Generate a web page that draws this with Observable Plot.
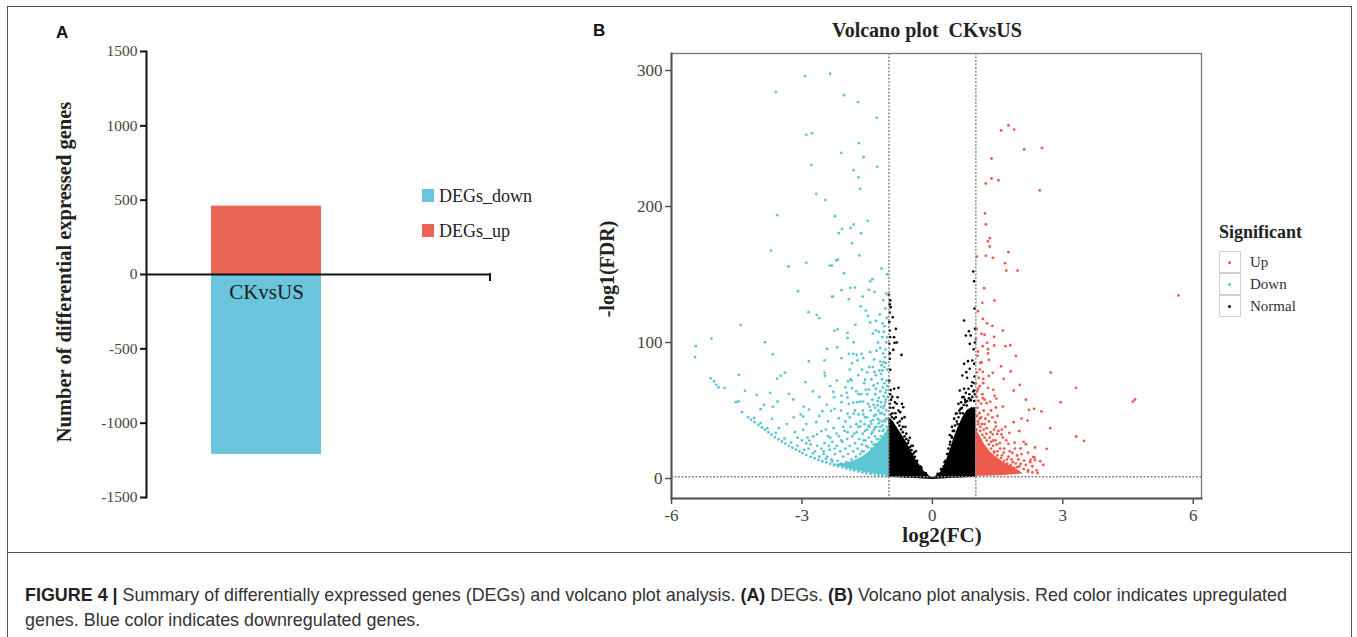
<!DOCTYPE html>
<html>
<head>
<meta charset="utf-8">
<script src="https://cdn.jsdelivr.net/npm/d3@7"></script>
<script src="https://cdn.jsdelivr.net/npm/@observablehq/plot@0.6"></script>
<style>
  html, body { margin: 0; padding: 0; background: #fff; }
  #page { position: relative; width: 1357px; height: 637px; overflow: hidden; background: #fff; }
  .abs { position: absolute; white-space: pre; }
  .serif { font-family: "Liberation Serif", "Times New Roman", serif; color: #222; }
  .center { transform: translate(-50%, -50%); }
  .rot { transform: translate(-50%, -50%) rotate(-90deg); }
  .letter { font-family: "Liberation Sans", Arial, sans-serif; font-weight: bold; font-size: 17px; color: #111; }
  .cap { font-family: "Liberation Sans", Arial, sans-serif; font-size: 19px; color: #333; line-height: 25px; transform-origin: 0 50%; }
</style>
</head>
<body>
<div id="page"></div>
<script>
// ---------- Panel A data ----------
const aCategories = ["CKvsUS"];
const aSeries = ["DEGs_down", "DEGs_up"];
const aValues = [-1210, 460];
const aTicks = [-1500, -1000, -500, 0, 500, 1000, 1500];
const aColors = ["#6AC5DC", "#EB6556"];

// ---------- Panel B data ----------
const bXTicks = [-6, -3, 0, 3, 6];
const bYTicks = [0, 100, 200, 300];
const fcThresholds = [-1, 1];
const fdrThreshold = [1.3];
const bGroups = ["Up", "Down", "Normal"];
const bColors = ["#EF5A4E", "#5CC6D3", "#000000"];

// Downregulated (cyan) points [log2FC, -log10 FDR]
const downPts = [
[-2.93,295.8],[-2.35,297.6],[-3.60,284.3],[-2.03,281.8],[-1.71,276.7],[-1.28,265.2],[-2.90,252.7],[-2.77,253.9],[-1.69,246.6],[-2.10,239.5],[-1.58,236.3],[-2.78,230.6],[-1.27,229.2],[-1.81,226.7],[-1.70,221.5],[-1.66,213.0],[-2.67,209.3],[-2.46,204.7],[-3.57,193.6],[-2.24,192.9],[-1.49,189.5],[-1.81,186.8],[-1.88,184.3],[-2.08,183.6],[-2.15,180.4],[-1.64,180.4],[-1.85,173.0],[-3.71,167.6],[-1.68,164.0],[-2.21,160.3],[-2.17,161],[-2.90,158.6],[-3.31,155.9],[-2.36,156.6],[-2.31,156.6],[-1.17,154.4],[-1.04,150.2],[-2.03,151.0],[-1.38,146.6],[-1.43,144.9],[-3.09,137.7],[-2.09,138.5],[-1.89,140.2],[-1.78,140.4],[-1.46,138.7],[-1.33,137.3],[-2.31,133.8],[-2.29,133.8],[-1.92,131.8],[-1.60,133.8],
[-2.85,122.3],[-2.66,120.3],[-2.60,117.9],[-1.65,126.5],[-1.53,123.5],[-1.48,119.6],[-1.21,120.6],[-1.30,115.9],[-1.43,114.7],[-1.77,113.0],[-2.18,109.6],[-2.25,108.6],[-1.95,107.1],[-1.95,103.4],[-1.81,100.2],[-1.37,106.6],[-1.30,108.8],[-1.23,107.9],[-1.12,107.9],[-4.41,113.0],[-5.08,102.9],[-5.44,97.3],[-5.46,89.2],[-3.85,100.2],[-3.67,91.2],[-2.42,95.3],[-2.19,96.5],[-2.48,86.8],[-2.84,86.3],[-2.09,88.5],[-1.92,91.7],[-1.82,91.7],[-1.74,91.0],[-1.63,91.7],[-1.59,88.5],[-1.85,84.8],[-1.72,86.8],[-1.43,92.9],[-1.34,87.5],[-1.37,81.9],[-1.33,78.4],[-1.22,79.4],[-1.15,79.4],[-1.17,83.3],[-1.40,72.8],[-1.30,76.0],[-1.18,77.0],[-1.11,81.9],[-1.12,85.5],[-1.09,89.2],[-5.10,73.8],[-5.02,71.5],[-4.97,68.9],[-4.92,66.9],[-4.78,66.7],[-4.45,76.2],[-4.31,64.5],[-4.52,56.1],[-4.46,56.8],[-4.38,48.8],
[-4.24,45.1],[-4.17,43.2],[-4.09,41.4],[-4.0,39.4],[-3.92,37.5],[-3.85,35.8],[-3.77,34.1],[-3.70,32.2],[-3.62,30.4],[-3.54,28.8],[-3.46,27.2],[-3.38,25.6],[-3.30,24.0],[-3.22,22.6],[-3.14,21.3],[-3.06,19.9],[-2.99,18.6],[-2.90,17.2],[-2.80,15.9],[-2.71,14.8],[-2.62,13.7],[-2.53,12.7],[-2.44,11.8],[-2.35,10.8],[-2.26,9.8],[-2.17,9.0],[-2.07,8.3],[-1.98,7.4],[-1.89,6.6],[-1.80,5.8],[-1.70,5.1],[-1.61,4.5],[-1.52,3.9],[-1.42,3.4],[-1.33,2.9],[-1.24,2.6],[-1.15,2.4],[-1.05,2.0],
[-4.1,44.5],[-3.95,40.8],[-3.8,37],[-3.6,33.5],[-3.4,29.5],[-3.25,26.5],[-3.1,24],[-2.95,21],[-2.75,18.5],[-2.6,16],[-2.45,14.5],[-2.3,12.5],
[-4.04,61.5],[-3.95,51.0],[-3.73,63.0],[-3.87,54.2],[-3.67,52.7],[-3.56,56.6],[-3.57,73.5],[-3.49,75.5],[-3.39,77.9],[-3.53,37.0],[-3.69,43.9],[-3.30,62.3],[-3.20,58.1],[-3.19,44.9],[-3.03,47.1],[-2.97,45.6],[-2.96,52.9],[-2.92,70.8],[-2.84,50.7],[-2.67,41.4],[-2.53,49.5],[-2.43,54.2],[-2.48,77.7],[-2.47,75.5],[-2.28,63.8],[-2.26,59.8],[-2.25,51.2],[-2.33,49.8],[-2.15,44.3],[-2.55,34.8],[-2.74,30.9],[-2.87,30.1],[-2.83,27.9],[-2.65,32.4],[-3.16,34.1],[-2.97,35.8],[-1.97,63.0],[-1.95,59.6],[-1.88,73.0],[-1.86,72.1],[-1.94,71.5],[-1.85,66.4],[-1.92,54.9],[-1.82,55.7],[-1.73,56.1],[-1.66,56.6],[-1.59,56.6],[-1.55,72.6],[-1.57,70.1],[-1.53,65.4],[-1.46,65.4],[-2.09,61.0],[-2.09,56.1],[-1.95,47.6],[-1.81,47.6],[-1.70,47.1],[-1.59,47.1],[-1.55,45.1],[-1.44,52.9],[-1.35,54.2],[-1.26,53.7],[-1.18,52.9],[-1.10,53.7],[-1.31,62.0],[-1.23,59.3],[-1.12,60.3],[-1.35,68.4],[-1.30,66.0],[-1.75,39.9],[-1.66,38.2],[-1.56,39.9],[-1.47,38.8],[-1.40,40.2],[-1.32,37.7],[-1.23,40.7],[-1.15,39.0],[-1.09,42.1],
[-2.55,22],[-2.5,18],[-2.48,26],[-2.42,16],[-2.4,31],[-2.36,21],[-2.32,14],[-2.3,27],[-2.27,37],[-2.24,18],[-2.2,24],[-2.18,13],[-2.15,31],[-2.12,20],[-2.1,11],[-2.07,27],[-2.05,16],[-2.02,35],[-2.0,22],[-1.98,12],[-1.96,29],[-1.94,18],[-1.92,9],[-1.9,24],[-1.88,38],[-1.86,14],[-1.84,31],[-1.82,20],[-1.8,11],[-1.78,26],[-1.76,16],[-1.74,34],[-1.72,22],[-1.7,8],[-1.68,29],[-1.66,18],[-1.64,13],[-1.62,25],[-1.6,33],[-1.58,20],[-1.56,10],[-1.54,28],[-1.52,16],[-1.5,36],[-1.48,23],[-1.46,30],[-1.44,13],[-1.42,42],[-1.4,27],[-1.38,34],[-1.36,20],[-1.34,46],[-1.32,31],[-1.3,25],[-1.28,38],[-1.26,44],[-1.24,29],[-1.22,35],[-1.2,48],[-1.18,31],[-1.16,42],[-1.14,27],[-1.12,36],[-1.1,47],[-1.08,33],[-1.06,44],[-1.05,38],[-1.07,58],[-1.06,65],[-1.1,70],[-1.05,72],[-1.08,95],[-1.06,100],[-1.1,112],[-1.05,118],[-1.08,125],[-1.13,131],[-1.06,136],[-1.2,96],[-1.25,100],[-1.15,104],[-1.28,94],[-1.45,82],[-1.5,78],[-1.62,80],[-1.7,76],[-1.75,64],[-1.64,62],[-1.9,80],[-2.0,67],[-2.2,72],[-2.35,68],[-2.6,60],[-2.75,64],[-2.6,46],[-2.4,42],[-2.9,40],[-3.35,40],[-2.1,50],[-2.0,42],
[-1.65,42],[-1.6,50],[-1.55,35],[-1.5,45],[-1.48,55],[-1.45,38],[-1.42,50],[-1.4,33],[-1.38,58],[-1.36,43],[-1.34,36],[-1.32,52],[-1.3,47],[-1.28,29],[-1.26,57],[-1.24,50],[-1.22,43],[-1.2,38],[-1.18,56],[-1.16,48],[-1.14,35],[-1.12,52],[-1.1,43],[-1.08,56],[-1.06,50],[-1.04,44],[-1.03,60],[-1.04,68],[-1.08,63],[-1.14,67],[-1.2,64],[-1.26,70],[-1.16,73],[-1.04,80],[-1.07,85],[-1.13,92],[-1.04,104],[-1.15,114],[-1.2,86],[-1.5,62],[-1.7,62],[-1.78,50],[-1.9,45],[-2.05,38],[-2.2,33],[-2.35,30],[-2.45,36],[-1.62,20],[-1.58,28],[-1.52,24],[-1.45,18],[-1.4,22],[-1.35,25],[-1.3,19],[-1.25,24],[-1.2,21],[-1.15,18],[-1.12,26],[-1.08,22],[-1.04,28],[-1.8,33],[-1.7,38],[-1.95,34],[-2.1,28],[-2.25,22],[-2.38,24],[-2.5,20],[-2.65,24],[-2.7,20],[-2.85,22],[-2.8,25],[-3.0,28],[-3.1,30],[-2.9,26]
];

// Upregulated (red) points
const upPts = [
[1.75,259.6],[1.58,255.9],[1.88,256.6],[2.11,241.9],[2.52,243.1],[1.36,235.3],[1.36,220.6],[1.52,219.3],[1.23,216.9],[2.47,211.8],[1.21,194.9],[1.23,186.8],[1.32,176.7],[1.28,174.5],[1.32,170.6],[1.75,166.4],[1.02,163.2],[1.23,163.7],[1.39,162.3],[1.67,158.3],[1.70,152.9],[1.96,152.9],[1.19,139.9],[1.43,130.9],[1.15,129.2],[5.66,134.6],
[1.16,117.4],[1.26,114.0],[1.38,112.3],[1.62,108.8],[1.13,106.4],[1.20,105.7],[1.42,104.2],[1.00,102.7],[1.26,99.8],[1.42,97.8],[1.16,97.3],[1.68,97.3],[1.79,98.0],[1.28,95.1],[1.05,93.4],[1.28,91.9],[1.92,90.2],[1.04,90.2],[1.30,87.3],[1.13,85.5],[1.58,82.4],[1.09,80.1],[1.16,78.4],[1.39,77.7],[1.80,78.7],[2.72,77.9],[1.30,75.5],[1.17,73.3],[1.64,73.3],[1.17,70.1],[1.09,67.9],[1.28,66.7],[2.01,68.9],[3.30,66.7],[1.87,64.7],[1.40,65.2],[1.03,64.0],[1.43,60.8],[1.47,58.8],[1.16,59.1],[2.15,57.9],[2.95,56.1],[4.61,56.6],[4.66,58.1],[1.25,55.4],[1.33,56.4],[1.46,52.2],[1.62,52.9],[2.22,50.5],[2.34,51.2],[2.51,49.3],[2.05,44.1],[2.19,42.6],[1.87,41.4],[1.45,41.2],[1.46,38.2],[2.71,37.0],[2.00,34.8],[1.77,33.6],[1.59,32.4],[1.49,32.8],[1.39,32.4],[1.34,34.1],[3.31,30.9],[3.49,27.7],[1.89,26.3],[1.75,25.5],[2.15,25.2],[2.63,21.8],[2.36,22.8],[2.03,22.1],[1.84,18.9],[1.95,16.9],[2.35,15.7],[2.26,13.7],[2.36,13.7],[2.48,12.7],[2.11,13.2],[2.03,10.8],[1.95,8.3],[1.83,7.8],
[1.04,52],[1.08,48],[1.12,45],[1.05,42],[1.18,50],[1.22,44],[1.1,38],[1.2,40],[1.28,47],[1.25,37],[1.3,42],[1.06,57],[1.15,62],[1.07,74],[1.1,85],[1.02,78],[1.0,70],[1.02,110],[1.05,123],
[1.4,24],[1.45,28],[1.5,20],[1.55,26],[1.6,17],[1.65,22],[1.7,28],[1.72,14],[1.78,20],[1.85,12],[1.9,22],[1.98,14],[2.05,18],[1.55,12],[1.62,30],[1.35,27],[1.42,19],[1.52,35],[1.68,38],[1.38,45],[2.1,27],[2.2,19],[2.3,9],[2.4,6],[2.2,6],[2.55,10],[2.32,15.7],
[1.02,36],[1.06,40],[1.1,35],[1.15,32],[1.2,30],[1.25,28],[1.3,25],[1.35,22],[1.42,20],[1.5,17],[1.58,15],[1.65,13],[1.72,11],[1.8,10],[1.88,8],[1.03,46],[1.09,44],[1.14,40],[1.18,36],[1.24,33],[1.32,30],[1.4,28],[1.48,25],[1.56,22],[1.64,19],[1.75,16],[1.82,14],[1.92,11],[2.0,9],[2.1,7],[2.2,5],[2.3,4.5],[2.42,4],[2.15,10],[2.25,12],[1.02,60],[1.05,66],[1.12,55],[1.2,58],[1.35,50],[1.5,46],[1.42,36],[1.6,36]
];

// Non-significant (black) points outside the dense core
const normalPts = [
[-0.96,126.0],[-0.91,118.6],[-0.98,108.8],[-0.84,110.0],[-0.88,103.9],[-0.87,99.8],[-0.90,94.6],[-0.71,90.9],[-0.99,99.0],[-1.0,135],[-0.98,128],[-0.99,115],[-0.98,88],[-0.97,80],[-0.99,72],[-0.96,65],[-0.88,66.0],[-0.78,66.7],[-0.80,59.8],[-0.70,54.9],[-0.67,52.4],[-0.74,48.8],[-0.64,45.1],[-0.95,58],[-0.9,52],[-0.85,48],[-0.82,55],[-0.93,45],[-0.75,42],[-0.68,38],[-0.6,33],[-0.55,28],[-0.48,24],[-0.42,19],[-0.35,13],[-0.25,8],[-0.15,4],[-0.82,100],
[-0.96,47],[-0.92,48],[-0.88,44],[-0.84,45],[-0.8,41],[-0.76,39],[-0.72,36],[-0.68,34],[-0.64,31],[-0.6,29],[-0.56,26],[-0.52,23],[-0.48,21],[-0.45,18],[-0.4,16],[-0.36,12],[-0.33,10],[-0.28,9],[-0.24,6],[-0.18,4],[-0.12,2.5],
[-0.97,52],[-0.98,55],[-0.97,62],[-0.98,92],[-0.97,104],[-0.98,122],[-0.97,131],[-0.92,60],[-0.86,56],[-0.78,50],[-0.7,44],[-0.62,38],[-0.52,30],[-0.45,24],[-0.38,20],
[0.73,116.2],[0.84,108.3],[0.88,105.1],[0.77,105.1],[0.86,99.0],[0.73,84.3],[0.82,86.3],[0.92,86.8],[0.86,80.7],[0.78,78.2],[0.69,75.7],[0.80,74.0],[0.63,64.7],[0.73,66.0],[0.69,59.8],[0.60,54.9],[0.65,51.2],[0.54,47.6],[0.79,53.7],[0.88,57.4],[0.96,64.7],[0.92,70.8],[0.96,84.3],[0.96,145],[0.94,152.2],[0.85,62],[0.75,58],[0.9,50],[0.95,48],[0.7,48],[0.58,40],[0.5,35],[0.45,30],[0.4,25],[0.35,18],[0.28,12],[0.2,7],[0.12,3.5],[0.95,95],[0.97,75],
[0.15,3],[0.22,6],[0.26,9],[0.3,13],[0.34,18],[0.37,22],[0.41,27],[0.44,31],[0.47,35],[0.52,39],[0.56,42],[0.6,45],[0.64,48],[0.68,52],[0.72,54],[0.76,56],[0.8,57],[0.84,59],[0.88,58],[0.92,60],[0.96,57],[0.98,62],[0.62,50],[0.66,56],[0.72,60],[0.77,63],[0.83,66],[0.9,68],[0.94,64],[0.97,70],[0.5,44],[0.56,48],[0.45,38],[0.4,32],[0.98,100],[0.98,110],[0.97,125]
];

// Dense cores of the point clouds (boundaries)
const coreNormalX  = [-1.0,-0.9,-0.8,-0.7,-0.6,-0.5,-0.4,-0.3,-0.2,-0.1,0,0.1,0.2,0.3,0.4,0.5,0.6,0.7,0.8,0.9,1.0];
const coreNormalLo = [1.0,0.8,0.6,0.4,0.2,0.1,0,-0.2,-0.4,-0.6,-0.8,-0.6,-0.4,-0.2,0,0.1,0.2,0.4,0.6,0.8,1.0];
const coreNormalHi = [45,42,37,32,27,21,15,9.5,5.5,2.2,0.6,2,5,11,20,30,38,45,50,52,52];
const coreDownX  = [-2.3,-2.0,-1.8,-1.6,-1.4,-1.2,-1.05,-1.0];
const coreDownLo = [10.5,8.0,6.2,4.8,3.6,2.7,2.2,2.0];
const coreDownHi = [10.5,11,13,16,21,28,35,38];
const coreUpX  = [1.0,1.1,1.2,1.35,1.5,1.65,1.8,1.95,2.1];
const coreUpLo = [1.6,1.6,1.7,1.8,2.0,2.2,2.5,3.0,3.5];
const coreUpHi = [36,31,25,19,15,11.5,9,6.5,3.5];

// ---------- helpers ----------
const page = document.getElementById("page");
function addDiv(cls, text, style) {
  const d = document.createElement("div");
  d.className = "abs " + cls;
  d.textContent = text;
  Object.assign(d.style, style);
  page.appendChild(d);
  return d;
}
const SERIF = "Liberation Serif, Times New Roman, serif";

// ---------- Panel A ----------
const aData = aSeries.map((s, i) => ({cat: aCategories[0], series: s, value: aValues[i]}));
const plotA = Plot.plot({
  width: 560, height: 553,
  marginLeft: 146, marginRight: 70, marginTop: 51, marginBottom: 56,
  style: {background: "transparent", overflow: "visible"},
  x: {type: "band", domain: aCategories, range: [211, 321], padding: 0, axis: null},
  y: {domain: [-1500, 1500], axis: null},
  color: {domain: aSeries, range: aColors},
  marks: [
    Plot.barY(aData, {x: "cat", y1: () => 0, y2: "value", fill: "series"}),
    Plot.ruleY([0], {stroke: "#111", strokeWidth: 2}),
    Plot.frame({anchor: "left", stroke: "#111", strokeWidth: 2}),
    Plot.axisY({ticks: aTicks, tickFormat: d => String(d), tickSize: 6, tickPadding: 3, label: null,
      fontSize: 15.5, fontFamily: SERIF, stroke: "#111", strokeWidth: 2, fill: "#444"}),
    Plot.text(aCategories, {x: d => d, y: () => 0, dy: 18, text: d => d, fontSize: 21,
      fontFamily: SERIF, fill: "#1a1a1a", lineAnchor: "middle"})
  ]
});
Object.assign(plotA.style, {position: "absolute", left: "0px", top: "0px"});
page.appendChild(plotA);
// end tick of the horizontal axis
d3.select(plotA).append("line").attr("x1", 490).attr("x2", 490)
  .attr("y1", 273).attr("y2", 281).attr("stroke", "#111").attr("stroke-width", 2);

// Panel A legend
aSeries.forEach((s, i) => {
  const y = [189, 224][i];
  addDiv("", "", {left: "422px", top: y + "px", width: "12px", height: "13px", background: aColors[i]});
  addDiv("serif", s, {left: "439px", top: (y + 7) + "px", fontSize: "18px", transform: "translate(0,-50%)"});
});

addDiv("serif rot", "Number of differential expressed genes",
  {left: "64px", top: "272px", fontSize: "20.5px", fontWeight: "bold", color: "#222"});
addDiv("letter", "A", {left: "56px", top: "23px"});

// ---------- Panel B ----------
const toObj = (arr, g) => arr.map(([x, y]) => ({x, y, g}));
const coreN = coreNormalX.map((x, i) => ({x, lo: coreNormalLo[i], hi: coreNormalHi[i]}));
const coreD = coreDownX.map((x, i) => ({x, lo: coreDownLo[i], hi: coreDownHi[i]}));
const coreU = coreUpX.map((x, i) => ({x, lo: coreUpLo[i], hi: coreUpHi[i]}));

const plotB = Plot.plot({
  width: 777, height: 553,
  marginLeft: 91, marginRight: 156, marginTop: 53, marginBottom: 55,
  style: {background: "transparent", overflow: "visible"},
  x: {domain: [-6, 6.19], axis: null},
  y: {domain: [-14.7, 312.5], axis: null},
  color: {domain: bGroups, range: bColors},
  marks: [
    Plot.areaY(coreN, {x: "x", y1: "lo", y2: "hi", fill: bColors[2]}),
    Plot.areaY(coreD, {x: "x", y1: "lo", y2: "hi", fill: bColors[1]}),
    Plot.areaY(coreU, {x: "x", y1: "lo", y2: "hi", fill: bColors[0]}),
    Plot.dot(toObj(normalPts, "Normal"), {x: "x", y: "y", r: 1.3, fill: "g"}),
    Plot.dot(toObj(downPts, "Down"), {x: "x", y: "y", r: 1.4, fill: "g"}),
    Plot.dot(toObj(upPts, "Up"), {x: "x", y: "y", r: 1.4, fill: "g"}),
    Plot.ruleX(fcThresholds, {stroke: "#888", strokeWidth: 1.4, strokeDasharray: "2,1.5"}),
    Plot.ruleY(fdrThreshold, {stroke: "#888", strokeWidth: 1.4, strokeDasharray: "2,1.5"}),
    Plot.frame({stroke: "#777", strokeWidth: 1.3}),
    Plot.frame({anchor: "left", stroke: "#555", strokeWidth: 2}),
    Plot.frame({anchor: "bottom", stroke: "#555", strokeWidth: 2}),
    Plot.axisX({ticks: bXTicks, tickFormat: d => String(d), tickSize: 6, tickPadding: 4, label: null,
      fontSize: 17, fontFamily: SERIF, stroke: "#555", strokeWidth: 1.5, fill: "#444"}),
    Plot.axisY({ticks: bYTicks, tickFormat: d => String(d), tickSize: 6, tickPadding: 3, label: null,
      fontSize: 17, fontFamily: SERIF, stroke: "#555", strokeWidth: 1.5, fill: "#444"})
  ]
});
Object.assign(plotB.style, {position: "absolute", left: "580px", top: "0px"});
page.appendChild(plotB);

addDiv("serif center", "Volcano plot  CKvsUS", {left: "927px", top: "30px", fontSize: "20px", fontWeight: "bold"});
addDiv("serif center", "log2(FC)", {left: "942px", top: "535px", fontSize: "21px", fontWeight: "bold"});
addDiv("serif rot", "-log1(FDR)", {left: "607px", top: "269px", fontSize: "20px", fontWeight: "bold"});
addDiv("letter", "B", {left: "593px", top: "21px"});

// Panel B legend
addDiv("serif", "Significant", {left: "1219px", top: "222px", fontSize: "18px", fontWeight: "bold", lineHeight: "20px"});
bGroups.forEach((g, i) => {
  const top = 251 + i * 22;
  addDiv("", "", {left: "1219px", top: top + "px", width: "20px", height: "20px",
    border: "1px solid #d0d0d0", background: "#fff"});
  addDiv("", "", {left: "1228px", top: (top + 10) + "px", width: "3px", height: "3px",
    borderRadius: "50%", background: bColors[i]});
  addDiv("serif", g, {left: "1250px", top: (top + 1) + "px", fontSize: "15px", lineHeight: "20px", color: "#333"});
});

// ---------- frame & caption ----------
addDiv("", "", {left: "7px", top: "6px", width: "1345px", height: "700px", border: "1.5px solid #555", boxSizing: "border-box"});
addDiv("", "", {left: "7px", top: "552px", width: "1345px", height: "0px", borderTop: "1.5px solid #555"});
const capLines = [
  ['<b style="color:#222">FIGURE 4 |</b> Summary of differentially expressed genes (DEGs) and volcano plot analysis. <b style="color:#222">(A)</b> DEGs. <b style="color:#222">(B)</b> Volcano plot analysis. Red color indicates upregulated', 1262],
  ['genes. Blue color indicates downregulated genes.', 0]
];
let capScale = 1;
capLines.forEach(([html, target], i) => {
  const d = document.createElement("div");
  d.className = "abs cap";
  d.style.left = "25px";
  d.style.top = (582 + i * 25) + "px";
  d.innerHTML = html;
  page.appendChild(d);
  if (target) capScale = target / d.getBoundingClientRect().width;
  d.style.transform = `scaleX(${capScale})`;
});
</script>
</body>
</html>
